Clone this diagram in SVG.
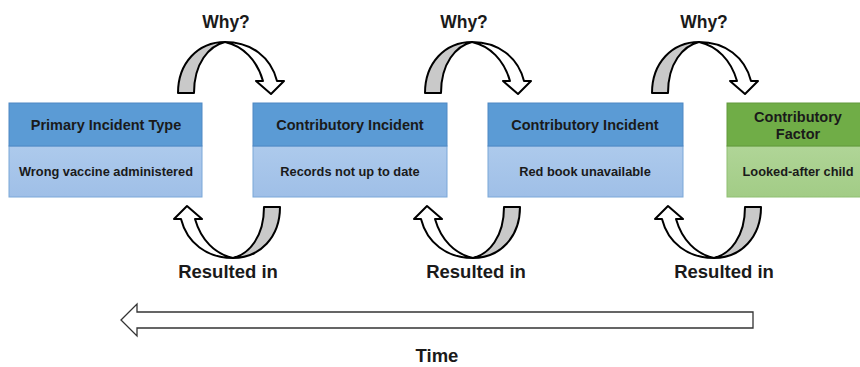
<svg xmlns="http://www.w3.org/2000/svg" width="860" height="367" viewBox="0 0 860 367">
<style>
  text { font-family: "Liberation Sans", Arial, sans-serif; font-weight: bold; fill: #1a1a1a; text-anchor: middle; }
  .hdr { font-size: 14.5px; }
  .bdy { font-size: 12.8px; }
  .lbl { font-size: 17.5px; }
  .res { font-size: 18.5px; }
  .time { font-size: 18.5px; }
  .bh { fill: #5b9bd5; stroke: #4e88c4; stroke-width: 1; }
  .bb { fill: url(#blueBody); stroke: #7aa7d8; stroke-width: 1; }
  .gh { fill: #70ad47; stroke: #62993d; stroke-width: 1; }
  .gb { fill: url(#greenBody); stroke: #8fbf72; stroke-width: 1; }
  .gray { fill: #c9c9c9; stroke: #000; stroke-width: 2; stroke-linejoin: round; }
  .white { fill: #fff; stroke: #000; stroke-width: 2; stroke-linejoin: round; }
  .timeline { fill: #fff; stroke: #333; stroke-width: 1.3; stroke-linejoin: miter; }
</style>
<defs>
  <linearGradient id="blueBody" x1="0" y1="0" x2="0" y2="1">
    <stop offset="0" stop-color="#adcaec"/>
    <stop offset="1" stop-color="#9fbfe7"/>
  </linearGradient>
  <linearGradient id="greenBody" x1="0" y1="0" x2="0" y2="1">
    <stop offset="0" stop-color="#b0d597"/>
    <stop offset="1" stop-color="#a2cc86"/>
  </linearGradient>
  <g id="curveArrow">
    <path class="gray" d="M0,0 C0,-30 20,-51 47,-51 C31,-47 16,-30 16,0 Z"/>
    <path class="white" d="M47,-51 C73,-51 93,-36 99,-12 L106,-12 L93,1 L78,-12 L85,-12 C79,-33 65,-47 47,-51 Z"/>
  </g>
</defs>
<rect width="860" height="367" fill="#fff"/>

<g id="connectors">
  <use href="#curveArrow" transform="translate(178,93)"/>
  <use href="#curveArrow" transform="translate(425,93)"/>
  <use href="#curveArrow" transform="translate(652,93)"/>
  <use href="#curveArrow" transform="translate(280,207) rotate(180)"/>
  <use href="#curveArrow" transform="translate(520,207) rotate(180)"/>
  <use href="#curveArrow" transform="translate(761,207) rotate(180)"/>
  <text class="lbl" x="226" y="28">Why?</text>
  <text class="lbl" x="464" y="28">Why?</text>
  <text class="lbl" x="704" y="28">Why?</text>
  <text class="res" x="228" y="278">Resulted in</text>
  <text class="res" x="476" y="278">Resulted in</text>
  <text class="res" x="724" y="278">Resulted in</text>
</g>

<g id="node-primary">
  <rect class="bb" x="9" y="146" width="193" height="51"/>
  <rect class="bh" x="9" y="103" width="193" height="43"/>
  <text class="hdr" x="106" y="130">Primary Incident Type</text>
  <text class="bdy" x="106" y="176">Wrong vaccine administered</text>
</g>

<g id="node-contrib1">
  <rect class="bb" x="253" y="146" width="194" height="51"/>
  <rect class="bh" x="253" y="103" width="194" height="43"/>
  <text class="hdr" x="350" y="130">Contributory Incident</text>
  <text class="bdy" x="350" y="176">Records not up to date</text>
</g>

<g id="node-contrib2">
  <rect class="bb" x="488" y="146" width="195" height="51"/>
  <rect class="bh" x="488" y="103" width="195" height="43"/>
  <text class="hdr" x="585" y="130">Contributory Incident</text>
  <text class="bdy" x="585" y="176">Red book unavailable</text>
</g>

<g id="node-factor">
  <rect class="gb" x="727" y="146" width="140" height="51"/>
  <rect class="gh" x="727" y="103" width="140" height="43"/>
  <text class="hdr" x="798" y="122">Contributory</text>
  <text class="hdr" x="798" y="139">Factor</text>
  <text class="bdy" x="798" y="176">Looked-after child</text>
</g>

<g id="timeline">
  <polygon class="timeline" points="121,320 137,304 137,312 753,312 753,328 137,328 137,336"/>
  <text class="time" x="437" y="362">Time</text>
</g>
</svg>
